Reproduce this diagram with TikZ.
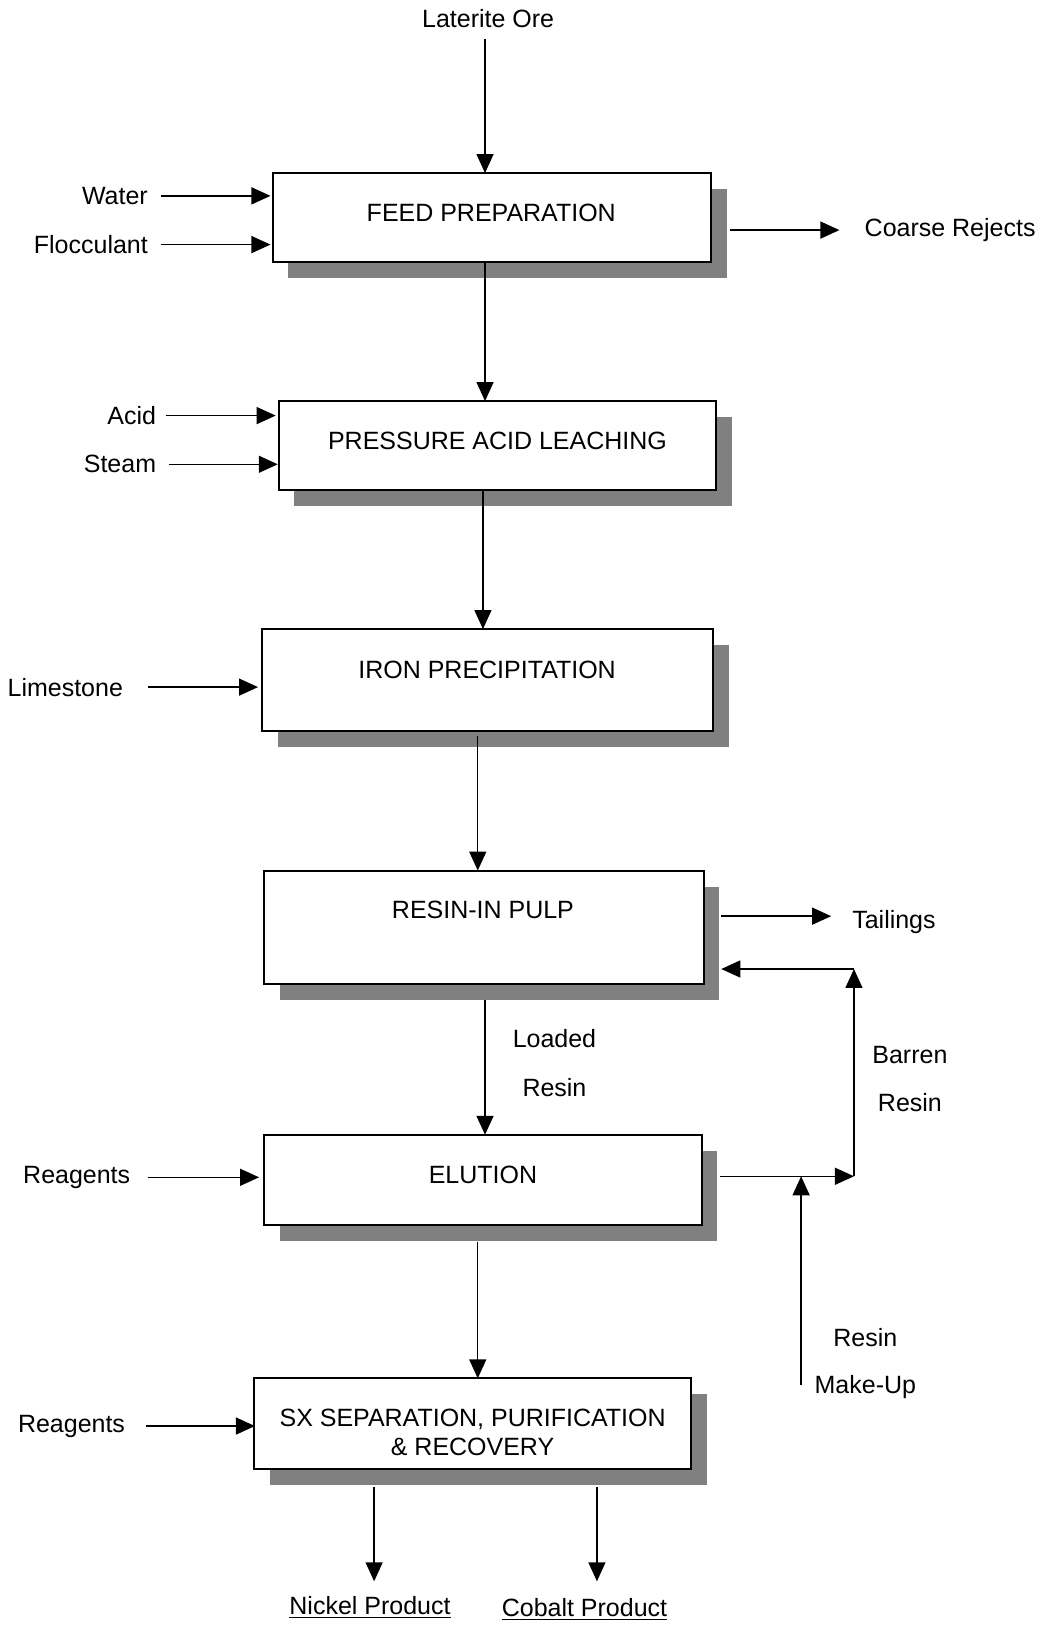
\documentclass[tikz,border=0pt]{standalone}
\usepackage{fontspec}
\setmainfont{Liberation Sans}
\usetikzlibrary{arrows.meta,calc,shadows}
\newlength{\pxu}\setlength{\pxu}{0.5184pt}
\definecolor{shadowgray}{RGB}{128,128,128}
\begin{document}
\begin{tikzpicture}[x=0.5184pt,y=-0.5184pt,
  font=\fontsize{12.5pt}{14.5pt}\selectfont,
  box/.style={draw=black,line width=1pt,fill=white,inner sep=0pt,outer sep=0pt,
    drop shadow={shadow xshift=7.8pt,shadow yshift=-8pt,fill=shadowgray,opacity=1}},
  lbl/.style={inner sep=0pt,align=center},
  arr/.style={line width=0.7pt,-{Triangle[length=9.5pt,width=8.5pt]}}]
\useasboundingbox (0,0) rectangle (1005,1568);
% boxes
\node[box,minimum width=423\pxu,minimum height=86\pxu] (b1) at (474.5,210) {};
\node[box,minimum width=422\pxu,minimum height=86\pxu] (b2) at (480,430) {};
\node[box,minimum width=435\pxu,minimum height=98\pxu] (b3) at (470.5,656) {};
\node[box,minimum width=424\pxu,minimum height=109\pxu] (b4) at (467,894.5) {};
\node[box,minimum width=422\pxu,minimum height=87\pxu] (b5) at (466,1138.5) {};
\node[box,minimum width=422\pxu,minimum height=87\pxu] (b6) at (456,1373.5) {};
% box texts
\node[lbl] (t1) at (474,205) {FEED PREPARATION};
\node[lbl] (t2) at (480,425) {PRESSURE ACID LEACHING};
\node[lbl] (t3) at (470,646) {IRON PRECIPITATION};
\node[lbl] (t4) at (466,878) {RESIN-IN PULP};
\node[lbl] (t5) at (466,1134) {ELUTION};
\node[lbl] (t6) at (456,1382) {SX SEPARATION, PURIFICATION\\\& RECOVERY};
% external labels
\node[lbl] (lat) at (471,18) {Laterite Ore};
\node[lbl,anchor=east] (water) at (143,189) {Water};
\node[lbl,anchor=east] (floc) at (143,236) {Flocculant};
\node[lbl,anchor=west] (cr) at (834,222) {Coarse Rejects};
\node[lbl,anchor=east] (acid) at (151,401) {Acid};
\node[lbl,anchor=east] (steam) at (151,448) {Steam};
\node[lbl,anchor=east] (lime) at (119,663) {Limestone};
\node[lbl,anchor=west] (tail) at (822,890) {Tailings};
\node[lbl] (load1) at (535,1002) {Loaded};
\node[lbl] (load2) at (535,1049) {Resin};
\node[lbl] (bar1) at (878,1018) {Barren};
\node[lbl] (bar2) at (878,1064) {Resin};
\node[lbl] (mk1) at (835,1291) {Resin};
\node[lbl] (mk2) at (835,1338) {Make-Up};
\node[lbl,anchor=east] (rg1) at (126,1136) {Reagents};
\node[lbl,anchor=east] (rg2) at (121,1376) {Reagents};
\node[lbl] (ni) at (357,1551) {\underline{Nickel Product}};
\node[lbl] (co) at (564,1553) {\underline{Cobalt Product}};
% main flow
\draw[arr] ($(lat.south -| 468,0)+(0,10)$) -- (b1.north -| 468,0);
\draw[arr] (b1.south -| 468,0) -- (b2.north -| 468,0);
\draw[arr] (b2.south -| 466,0) -- (b3.north -| 466,0);
\draw[arr] ($(b3.south -| 461,0)+(0,5)$) -- (b4.north -| 461,0);
\draw[arr] ($(b4.south -| 468,0)+(0,16)$) -- (b5.north -| 468,0);
\draw[arr] ($(b5.south -| 461,0)+(0,16)$) -- (b6.north -| 461,0);
% inputs
\draw[arr] ($(water.east)+(12,0)$) -- ($(b1.west |- water.east)+(-2,0)$);
\draw[arr] ($(floc.east)+(12,0)$) -- ($(b1.west |- floc.east)+(-2,0)$);
\draw[arr] ($(acid.east)+(9,0)$) -- ($(b2.west |- acid.east)+(-3,0)$);
\draw[arr] ($(steam.east)+(12,0)$) -- ($(b2.west |- steam.east)+(-1,0)$);
\draw[arr] ($(lime.east)+(24,0)$) -- ($(b3.west |- lime.east)+(-4,0)$);
\draw[arr] ($(rg1.east)+(17,0)$) -- ($(b5.west |- rg1.east)+(-5,0)$);
\draw[arr] ($(rg2.east)+(20,0)$) -- ($(b6.west |- rg2.east)+(1,0)$);
% outputs
\draw[arr] ($(b1.east |- cr.west)+(18,0)$) -- ($(cr.west)+(-24,0)$);
\draw[arr] ($(b4.east |- 0,884)+(17,0)$) -- ($(tail.west |- 0,884)+(-20,0)$);
% resin loop
\coordinate (jr) at (824,1135);
\coordinate (jt) at (824,935);
\coordinate (mu) at (773,1336);
\draw[arr] ($(b5.east |- jr)+(18,0)$) -- (jr);
\draw[arr] (jr) -- (jt);
\draw[arr] (jt) -- ($(b4.east |- jt)+(17,0)$);
\draw[arr] (mu) -- (mu |- jr);
% products
\draw[arr] ($(b6.south -| 361,0)+(0,18)$) -- ($(ni.north -| 361,0)+(0,-14)$);
\draw[arr] ($(b6.south -| 576,0)+(0,18)$) -- ($(co.north -| 576,0)+(0,-16)$);
\end{tikzpicture}
\end{document}
